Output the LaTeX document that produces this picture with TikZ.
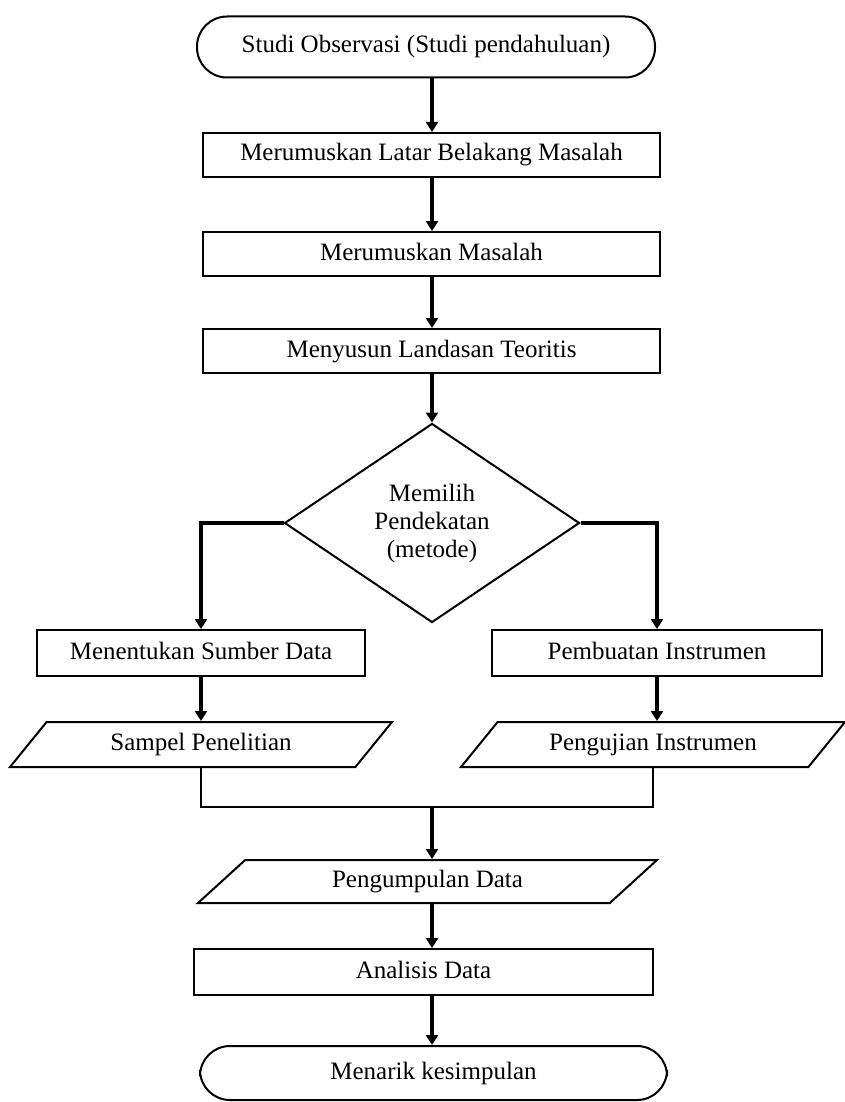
\documentclass[tikz,border=0pt]{standalone}
\usepackage{fontspec}
\setmainfont{Liberation Serif}
\usetikzlibrary{shapes.geometric,arrows.meta}
\begin{document}
\begin{tikzpicture}[
        x=0.5pt, y=-0.5pt,
        font=\fontsize{12.5}{14}\selectfont,
        terminal/.style={draw, rectangle, rounded corners=15pt, line width=1pt, inner sep=0pt, text height=8.5pt, text depth=2.5pt},
        process/.style={draw, rectangle, line width=1pt, inner sep=0pt, minimum height=22pt, text height=8.5pt, text depth=2.5pt},
        decision/.style={draw, diamond, line width=1pt, inner sep=0pt, align=center, minimum width=147.5pt, minimum height=99.5pt},
        io/.style={draw, trapezium, trapezium left angle=31, trapezium right angle=149, trapezium stretches body, line width=1pt, inner sep=0pt, minimum height=22.5pt, text height=8.5pt, text depth=2.5pt},
        arrow/.style={-{Triangle[width=6pt,length=5pt]}, line width=2pt},
        line/.style={line width=0.8pt}
    ]
        \useasboundingbox (0,0) rectangle (845,1102);
        \coordinate (spine) at (432,0);

        % Start and first steps
        \node[terminal, minimum width=229pt, minimum height=30.5pt] (observasi) at (426,47) {Studi Observasi (Studi pendahuluan)};
        \foreach \name/\y/\label in {
            latar/155/Merumuskan Latar Belakang Masalah,
            masalah/254/Merumuskan Masalah,
            landasan/351/Menyusun Landasan Teoritis
        } {
            \node[process, minimum width=228.5pt] (\name) at (431.5,\y) {\label};
        }
        \node[decision] (pendekatan) at (432,523) {Memilih\\Pendekatan\\(metode)};

        % Two branches
        \node[process, minimum width=164pt, minimum height=23pt] (sumber) at (201,653) {Menentukan Sumber Data};
        \node[process, minimum width=165pt, minimum height=23pt] (pembuatan) at (657,653) {Pembuatan Instrumen};
        \node[io, minimum width=191pt] (sampel) at (201,744.5) {Sampel Penelitian};
        \node[io, minimum width=192pt] (pengujian) at (653,744.5) {Pengujian Instrumen};
        \coordinate (gabung) at (432,807);

        % Final steps
        \node[io, trapezium left angle=25, trapezium right angle=155, minimum width=229.5pt, minimum height=21.5pt] (pengumpulan) at (427.5,881.5) {Pengumpulan Data};
        \node[process, minimum width=229.5pt, minimum height=23pt] (analisis) at (423.5,972) {Analisis Data};
        \node[terminal, minimum width=233.5pt, minimum height=27pt] (kesimpulan) at (433.5,1073) {Menarik kesimpulan};

        % Connectors
        \draw[arrow] (spine |- observasi.south) -- (spine |- latar.north);
        \draw[arrow] (spine |- latar.south) -- (spine |- masalah.north);
        \draw[arrow] (spine |- masalah.south) -- (spine |- landasan.north);
        \draw[arrow] (spine |- landasan.south) -- (pendekatan.north);
        \draw[arrow] (pendekatan.west) -| (sumber.north);
        \draw[arrow] (pendekatan.east) -| (pembuatan.north);
        \draw[arrow] (sumber.south) -- (sumber.south |- sampel.north);
        \draw[arrow] (pembuatan.south) -- (pembuatan.south |- pengujian.north);
        \draw[line] (sampel.south) |- (gabung) -| (pengujian.south);
        \draw[arrow] (gabung) -- (gabung |- pengumpulan.north);
        \draw[arrow] (spine |- pengumpulan.south) -- (spine |- analisis.north);
        \draw[arrow] (spine |- analisis.south) -- (spine |- kesimpulan.north);
    \end{tikzpicture}
\end{document}
